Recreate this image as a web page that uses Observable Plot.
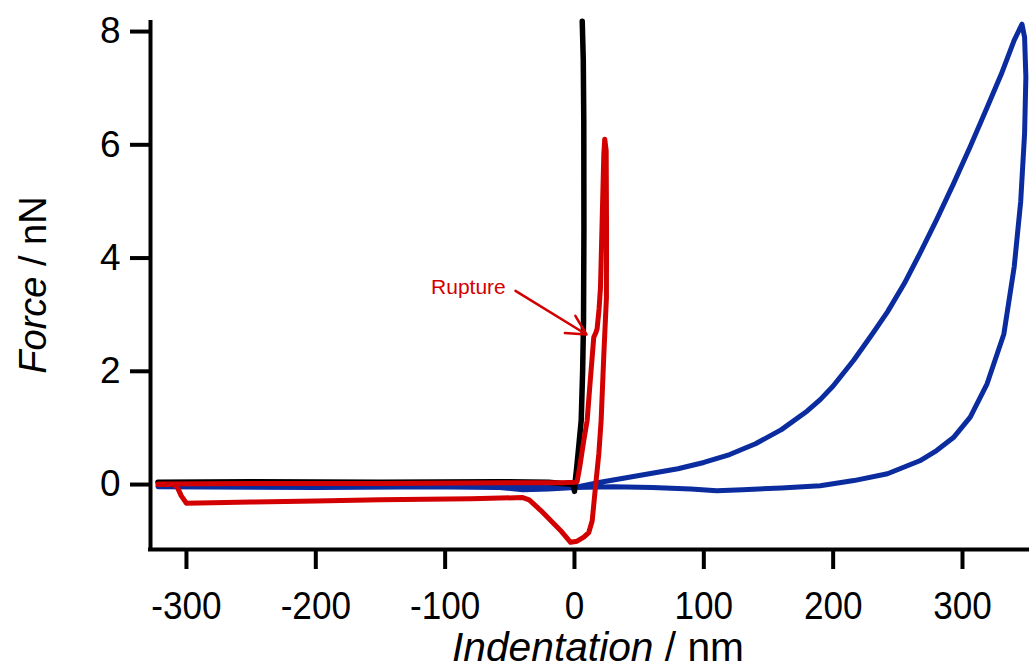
<!DOCTYPE html>
<html><head><meta charset="utf-8">
<script src="https://cdn.jsdelivr.net/npm/d3@7"></script>
<script src="https://cdn.jsdelivr.net/npm/@observablehq/plot@0.6"></script>
<style>
body{margin:0;background:#fff;}
#chart svg{display:block;}
</style></head><body><div id="chart"></div>
<script>
// Blue curve (soft sample): approach then retract
const blueIndent = [-322,-250,-150,-60,-40,-20,0,20,40,60,80,100,120,140,160,180,190,200,216,230,242,255,267,280,293,306,319,330,335,340,346,
  348,349,348,345,340,332,319,306,293,280,267,242,216,190,160,130,110,90,60,30,0,-100,-200,-322];
const blueForce = [-0.03,-0.04,-0.03,-0.05,-0.09,-0.08,-0.05,0.04,0.12,0.2,0.28,0.39,0.53,0.72,0.97,1.3,1.5,1.74,2.2,2.65,3.05,3.55,4.08,4.68,5.31,5.97,6.66,7.25,7.55,7.85,8.13,
  7.9,7.2,6.2,5.0,3.85,2.66,1.78,1.19,0.83,0.6,0.42,0.19,0.07,-0.02,-0.06,-0.09,-0.11,-0.08,-0.05,-0.04,-0.05,-0.04,-0.05,-0.04];

// Black curve (hard reference)
const blackIndent = [-322,-250,-150,-60,-20,-1,0,0.5,1.5,3,5.2,6.3,7,7.3,7.2,6.8,6];
const blackForce  = [0.04,0.05,0.04,0.05,0.04,0.0,-0.12,0.05,0.25,0.6,1.13,2.0,2.9,4.5,6.4,7.5,8.18];

// Red curve (membrane rupture): approach then retract
const redIndent = [-322,-250,-150,-50,-10,0,2,4,7,9.8,11.8,13.5,14.9,16.5,17.5,19,20.1,21.4,22.7,23.4,
  24.5,24.8,24.7,22.7,20.6,18.8,16.2,13.7,11,7.2,2,-3,-10.8,-26,-35,-40,-80,-150,-200,-250,-300,-304,-307,-310,-322];
const redForce = [0.01,0.02,0.02,0.03,0.03,0.04,0.05,0.3,0.75,1.13,1.72,2.2,2.6,2.68,2.75,3.1,3.48,4.66,5.84,6.1,
  5.9,4.5,3.3,2.3,1.13,0.54,-0.05,-0.64,-0.85,-0.93,-1.0,-1.02,-0.81,-0.46,-0.27,-0.23,-0.25,-0.27,-0.29,-0.31,-0.33,-0.2,-0.05,0.0,0.0];

const xTicks = [-300,-200,-100,0,100,200,300];
const yTicks = [0,2,4,6,8];
const xDomain = [-327.8, 351.8];
const yDomain = [-1.147, 8.16];

// Annotation
const ruptureLabel = ["Rupture"];
const ruptureLabelX = [-82];
const ruptureLabelY = [3.48];
const ruptureArrowFrom = [-45.6, 3.42];
const ruptureArrowTo = [9.3, 2.65];

const toRows = (xs, ys) => xs.map((x, i) => ({x, y: ys[i]}));
const blue = toRows(blueIndent, blueForce);
const black = toRows(blackIndent, blackForce);
const red = toRows(redIndent, redForce);

const BLUE = "#0a2c9e", RED = "#d20000", BLACK = "#000";
const SANS = "'Liberation Sans', Arial, Helvetica, sans-serif";

const W = 1029, H = 670, ML = 150, MR = 0, MT = 22, MB = 121;

const chart = Plot.plot({
  width: W, height: H,
  marginLeft: ML, marginRight: MR, marginTop: MT, marginBottom: MB,
  x: {domain: xDomain},
  y: {domain: yDomain},
  style: {fontFamily: SANS, background: "#fff", color: "#000", overflow: "visible"},
  marks: [
    Plot.line(blue, {x: "x", y: "y", stroke: BLUE, strokeWidth: 5, strokeLinejoin: "round"}),
    Plot.line(black, {x: "x", y: "y", stroke: BLACK, strokeWidth: 5.5, strokeLinejoin: "round"}),
    Plot.line(red, {x: "x", y: "y", stroke: RED, strokeWidth: 5, strokeLinejoin: "round"}),
    Plot.ruleX([xDomain[0]], {y1: yDomain[0], y2: yDomain[1], stroke: BLACK, strokeWidth: 4, strokeLinecap: "square"}),
    Plot.ruleY([yDomain[0]], {stroke: BLACK, strokeWidth: 4, strokeLinecap: "square"}),
    Plot.axisY({ticks: yTicks, tickSize: 20, strokeWidth: 4, tickPadding: 10, fontSize: 37, tickFormat: d => String(d), label: null}),
    Plot.axisX({ticks: xTicks, tickSize: 20, strokeWidth: 4, tickPadding: 22, fontSize: 39, tickFormat: d => String(d), label: null}),
    Plot.arrow([0], {x1: () => ruptureArrowFrom[0], y1: () => ruptureArrowFrom[1], x2: () => ruptureArrowTo[0], y2: () => ruptureArrowTo[1],
      stroke: RED, strokeWidth: 2.5, headLength: 13, headAngle: 55}),
    Plot.text(ruptureLabel, {x: (d, i) => ruptureLabelX[i], y: (d, i) => ruptureLabelY[i], text: d => d, fill: RED, fontSize: 21, fontFamily: SANS})
  ]
});

document.getElementById("chart").appendChild(chart);
const svg = d3.select(chart);

// Condense the x tick labels (reference uses a narrow face)
svg.selectAll("g[aria-label='x-axis tick label'] text").each(function() {
  const len = this.getComputedTextLength();
  d3.select(this).attr("textLength", len * 0.9).attr("lengthAdjust", "spacingAndGlyphs");
});

// Axis titles with mixed italic / upright text
const xt = svg.append("text")
  .attr("x", 598).attr("y", 661)
  .attr("text-anchor", "middle")
  .attr("font-family", SANS).attr("font-size", 40).attr("fill", "#000")
  .attr("textLength", 292).attr("lengthAdjust", "spacingAndGlyphs");
xt.append("tspan").attr("font-style", "italic").text("Indentation");
xt.append("tspan").text(" / nm");

const yt = svg.append("text")
  .attr("transform", "translate(46,285) rotate(-90)")
  .attr("text-anchor", "middle")
  .attr("font-family", SANS).attr("font-size", 38).attr("fill", "#000");
yt.append("tspan").attr("font-style", "italic").text("Force");
yt.append("tspan").text(" / nN");
</script>
</body></html>
